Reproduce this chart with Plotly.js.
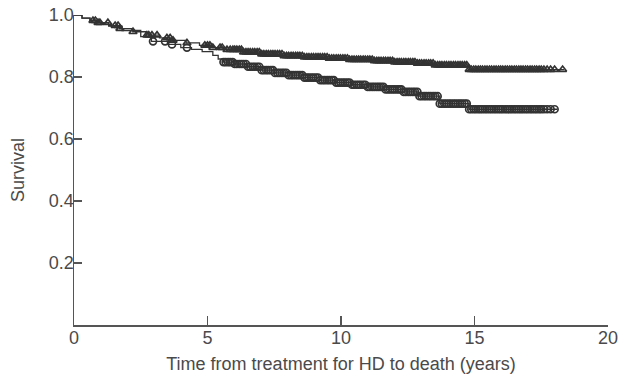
<!DOCTYPE html>
<html>
<head>
<meta charset="utf-8">
<script src="https://cdn.plot.ly/plotly-3.0.1.min.js"></script>
<style>html,body{margin:0;padding:0;background:#fff;}#chart{width:619px;height:376px;}</style>
</head>
<body>
<div id="chart"></div>
<script>
// Kaplan-Meier step points, triangle group (upper)
const triTimes = [0, 0.3, 0.6, 0.9, 1.3, 1.7, 2.2, 2.7, 3.2, 3.7, 4.2, 4.7, 5.2, 5.7, 6.3, 7.0, 7.8, 8.6, 9.5, 10.3, 11.2, 12.0, 12.8, 13.5, 14.8, 18.35];
const triSurv  = [1.0, 0.99, 0.982, 0.975, 0.966, 0.956, 0.946, 0.935, 0.926, 0.918, 0.91, 0.902, 0.895, 0.888, 0.88, 0.874, 0.868, 0.864, 0.86, 0.856, 0.852, 0.848, 0.844, 0.838, 0.824, 0.824];
// Kaplan-Meier step points, circle group (lower)
const cirTimes = [0, 0.3, 0.6, 0.9, 1.3, 1.8, 2.5, 2.9, 3.5, 4.0, 4.4, 4.8, 5.2, 5.4, 5.6, 6.0, 6.5, 7.0, 7.5, 8.0, 8.6, 9.2, 9.8, 10.4, 11.0, 11.6, 12.3, 12.9, 13.7, 14.8, 18.1];
const cirSurv  = [1.0, 0.99, 0.982, 0.975, 0.964, 0.95, 0.93, 0.915, 0.905, 0.895, 0.889, 0.882, 0.87, 0.858, 0.848, 0.842, 0.833, 0.822, 0.813, 0.806, 0.798, 0.79, 0.782, 0.775, 0.768, 0.76, 0.752, 0.738, 0.714, 0.696, 0.696];
// Censoring times (marks), triangle group
const triCensor = [0.71, 0.8, 0.9, 0.97, 1.27, 1.54, 1.65, 1.72, 2.21, 2.73, 2.8, 2.92, 3.11, 3.48, 3.6, 3.71, 4.23, 4.9, 5.0, 5.09, 5.2, 5.47, 5.55, 5.73, 5.85, 5.95,
  6.02, 6.1, 6.19, 6.27, 6.35, 6.44, 6.52, 6.6, 6.69, 6.77, 6.86, 6.94, 7.03, 7.11, 7.2, 7.28, 7.37, 7.45, 7.53, 7.62, 7.7, 7.79, 7.87, 7.96,
  8.04, 8.13, 8.21, 8.3, 8.38, 8.46, 8.55, 8.63, 8.72, 8.8, 8.89, 8.97, 9.06, 9.14, 9.22, 9.31, 9.39, 9.48, 9.56, 9.65, 9.73, 9.82, 9.9, 9.98,
  10.07, 10.15, 10.24, 10.32, 10.41, 10.49, 10.58, 10.66, 10.74, 10.83, 10.91, 11.0, 11.08, 11.17, 11.25, 11.34, 11.42, 11.5, 11.59, 11.67,
  11.76, 11.84, 11.93, 12.01, 12.1, 12.18, 12.26, 12.35, 12.43, 12.52, 12.6, 12.69, 12.77, 12.86, 12.94, 13.02, 13.11, 13.19, 13.28, 13.36,
  13.45, 13.53, 13.62, 13.7, 13.78, 13.87, 13.95, 14.04, 14.12, 14.21, 14.29, 14.38, 14.46, 14.54, 14.63, 14.71, 14.8, 14.88, 14.97, 15.05,
  15.14, 15.22, 15.3, 15.39, 15.47, 15.56, 15.64, 15.73, 15.81, 15.9, 15.98, 16.06, 16.15, 16.23, 16.32, 16.4, 16.49, 16.57, 16.66, 16.74,
  16.82, 16.91, 16.99, 17.08, 17.16, 17.25, 17.33, 17.42, 17.5, 17.6, 17.72, 17.85, 18.0, 18.3];
// Censoring times (marks), circle group
const cirCensor = [2.96, 3.41, 3.67, 4.23,
  5.6, 5.68, 5.77, 5.85, 5.94, 6.02, 6.1, 6.19, 6.27, 6.35, 6.44, 6.52, 6.6, 6.69, 6.77, 6.86, 6.94, 7.03, 7.11, 7.2, 7.28, 7.37, 7.45, 7.53,
  7.62, 7.7, 7.79, 7.87, 7.96, 8.04, 8.13, 8.21, 8.3, 8.38, 8.46, 8.55, 8.63, 8.72, 8.8, 8.89, 8.97, 9.06, 9.14, 9.22, 9.31, 9.39, 9.48, 9.56,
  9.65, 9.73, 9.82, 9.9, 9.98, 10.07, 10.15, 10.24, 10.32, 10.41, 10.49, 10.58, 10.66, 10.74, 10.83, 10.91, 11.0, 11.08, 11.17, 11.25, 11.34,
  11.42, 11.5, 11.59, 11.67, 11.76, 11.84, 11.93, 12.01, 12.1, 12.18, 12.26, 12.35, 12.43, 12.52, 12.6, 12.69, 12.77, 12.86, 12.94, 13.02,
  13.11, 13.19, 13.28, 13.36, 13.45, 13.53, 13.62, 13.7, 13.78, 13.87, 13.95, 14.04, 14.12, 14.21, 14.29, 14.38, 14.46, 14.54, 14.63, 14.71,
  14.8, 14.88, 14.97, 15.05, 15.14, 15.22, 15.3, 15.39, 15.47, 15.56, 15.64, 15.73, 15.81, 15.9, 15.98, 16.06, 16.15, 16.23, 16.32, 16.4,
  16.49, 16.57, 16.66, 16.74, 16.82, 16.91, 16.99, 17.08, 17.16, 17.25, 17.33, 17.42, 17.5, 17.6, 17.72, 17.85, 18.0];
const yTickVals = [0.2, 0.4, 0.6, 0.8, 1.0];
const yTickText = ["0.2", "0.4", "0.6", "0.8", "1.0"];
const xTickVals = [0, 5, 10, 15, 20];
const xTickText = ["0", "5", "10", "15", "20"];

function survAt(times, vals, t) {
  let v = vals[0];
  for (let i = 0; i < times.length; i++) { if (times[i] <= t) v = vals[i]; }
  return v;
}

const ink = '#333333';
const traces = [
  {x: triTimes, y: triSurv, mode: 'lines', line: {shape: 'hv', color: ink, width: 1.3}, cliponaxis: false, hoverinfo: 'skip'},
  {x: cirTimes, y: cirSurv, mode: 'lines', line: {shape: 'hv', color: ink, width: 1.3}, cliponaxis: false, hoverinfo: 'skip'},
  {x: triCensor, y: triCensor.map(t => survAt(triTimes, triSurv, t)), mode: 'markers', cliponaxis: false,
   marker: {symbol: 'triangle-up-open', size: 7, color: ink, line: {width: 1.7, color: ink}}},
  {x: cirCensor, y: cirCensor.map(t => survAt(cirTimes, cirSurv, t)), mode: 'markers', cliponaxis: false,
   marker: {symbol: 'circle-open', size: 7, color: ink, line: {width: 1.7, color: ink}}}
];

const axisFont = {family: 'Liberation Sans, Arial, sans-serif', size: 18, color: '#4a4a4a'};
const layout = {
  width: 619, height: 376,
  margin: {l: 74, r: 11, t: 15, b: 51},
  paper_bgcolor: '#fff', plot_bgcolor: '#fff',
  showlegend: false,
  xaxis: {range: [0, 20], tickvals: xTickVals, ticktext: xTickText, ticks: 'inside', ticklen: 9, tickwidth: 1.3, tickcolor: '#555',
          ticklabelstandoff: -4,
          showline: true, linecolor: '#555', linewidth: 1.5, showgrid: false, zeroline: false, tickfont: axisFont,
          title: {text: 'Time from treatment for HD to death (years)', font: axisFont, standoff: 10}},
  yaxis: {range: [0, 1], tickvals: yTickVals, ticktext: yTickText, ticks: 'inside', ticklen: 8, tickwidth: 1.3, tickcolor: '#555',
          ticklabelstandoff: -5,
          showline: true, linecolor: '#555', linewidth: 1.5, showgrid: false, zeroline: false, tickfont: axisFont,
          title: {text: 'Survival', font: axisFont, standoff: 19}}
};
Plotly.newPlot('chart', traces, layout, {staticPlot: true, displayModeBar: false});
</script>
</body>
</html>
